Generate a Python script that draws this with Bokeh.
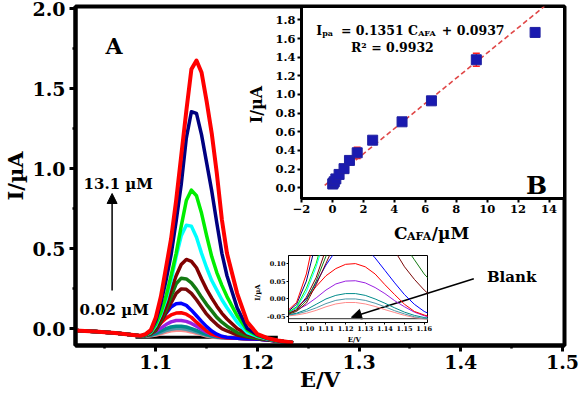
import math
from bokeh.plotting import figure
from bokeh.models import (FixedTicker, NumeralTickFormatter, CustomJSTickFormatter, Label,
                          Arrow, NormalHead, Whisker, TeeHead, ColumnDataSource, GridBox)
from bokeh.embed import file_html
from bokeh.resources import INLINE

SERIF = "DejaVu Serif"

# ---- DPV curves: potential grid (V) and current (uA) for each AFA level ----
E = [1.02, 1.04, 1.06, 1.08, 1.085, 1.09, 1.095, 1.10, 1.105, 1.11, 1.115, 1.12, 1.125, 1.13,
     1.135, 1.14, 1.145, 1.15, 1.155, 1.16, 1.165, 1.17, 1.18, 1.19, 1.20, 1.21, 1.22, 1.235]

i_0p02 = [-0.012, -0.018, -0.028, -0.042, -0.046, -0.048, -0.045, -0.040, -0.032, -0.022, -0.014, -0.010,
          -0.010, -0.014, -0.021, -0.030, -0.038, -0.046, -0.052, -0.056, -0.058, -0.059, -0.060, -0.063,
          -0.066, -0.071, -0.078, -0.088]
i_0p05 = [-0.012, -0.018, -0.028, -0.042, -0.046, -0.046, -0.042, -0.035, -0.025, -0.013, -0.004, 0.000,
          0.000, -0.004, -0.012, -0.022, -0.033, -0.042, -0.050, -0.055, -0.057, -0.058, -0.060, -0.063,
          -0.066, -0.071, -0.078, -0.088]
i_0p1 = [-0.012, -0.018, -0.028, -0.042, -0.046, -0.045, -0.040, -0.030, -0.015, 0.000, 0.010, 0.015,
         0.015, 0.010, 0.000, -0.012, -0.025, -0.037, -0.046, -0.052, -0.056, -0.058, -0.060, -0.063,
         -0.066, -0.071, -0.078, -0.088]
i_0p2 = [-0.012, -0.018, -0.028, -0.042, -0.046, -0.042, -0.032, -0.017, 0.003, 0.025, 0.042, 0.050,
         0.051, 0.045, 0.032, 0.015, -0.005, -0.022, -0.037, -0.047, -0.054, -0.058, -0.060, -0.063,
         -0.066, -0.071, -0.078, -0.088]
i_0p4 = [-0.012, -0.018, -0.028, -0.042, -0.046, -0.040, -0.025, 0.000, 0.035, 0.065, 0.085, 0.097,
         0.099, 0.090, 0.070, 0.040, 0.012, -0.015, -0.035, -0.045, -0.053, -0.058, -0.060, -0.063,
         -0.066, -0.071, -0.078, -0.088]
i_0p7 = [-0.012, -0.018, -0.028, -0.042, -0.046, -0.040, -0.025, 0.000, 0.045, 0.095, 0.135, 0.155,
         0.158, 0.145, 0.115, 0.080, 0.045, 0.012, -0.015, -0.035, -0.048, -0.055, -0.060, -0.063,
         -0.066, -0.071, -0.078, -0.088]
i_1p1 = [-0.012, -0.018, -0.028, -0.042, -0.046, -0.044, -0.035, -0.012, 0.040, 0.100, 0.160, 0.220,
         0.248, 0.245, 0.220, 0.180, 0.135, 0.090, 0.055, 0.025, 0.000, -0.015, -0.040, -0.053,
         -0.062, -0.070, -0.078, -0.088]
i_1p6 = [-0.012, -0.018, -0.028, -0.042, -0.046, -0.043, -0.032, -0.005, 0.050, 0.120, 0.200, 0.280,
         0.315, 0.310, 0.285, 0.245, 0.195, 0.150, 0.110, 0.070, 0.040, 0.015, -0.025, -0.048,
         -0.060, -0.069, -0.078, -0.088]
i_2p6 = [-0.012, -0.018, -0.028, -0.042, -0.046, -0.042, -0.030, 0.005, 0.060, 0.140, 0.240, 0.330,
         0.400, 0.432, 0.420, 0.380, 0.310, 0.245, 0.190, 0.140, 0.095, 0.060, 0.000, -0.035,
         -0.055, -0.067, -0.078, -0.088]
i_4p5 = [-0.012, -0.018, -0.028, -0.042, -0.046, -0.040, -0.025, 0.020, 0.090, 0.180, 0.300, 0.450,
         0.580, 0.645, 0.640, 0.570, 0.470, 0.380, 0.300, 0.240, 0.180, 0.130, 0.040, -0.025,
         -0.050, -0.065, -0.078, -0.088]
i_6p4 = [-0.012, -0.018, -0.028, -0.042, -0.046, -0.040, -0.022, 0.030, 0.100, 0.200, 0.330, 0.470,
         0.640, 0.800, 0.865, 0.830, 0.720, 0.580, 0.450, 0.350, 0.270, 0.200, 0.080, -0.010,
         -0.045, -0.063, -0.078, -0.088]
i_9p3 = [-0.012, -0.018, -0.028, -0.042, -0.046, -0.038, -0.015, 0.050, 0.160, 0.300, 0.460, 0.670,
         0.900, 1.190, 1.355, 1.345, 1.210, 1.035, 0.860, 0.660, 0.470, 0.330, 0.130, 0.000,
         -0.040, -0.062, -0.077, -0.088]
i_13p1 = [-0.012, -0.018, -0.028, -0.042, -0.045, -0.035, -0.010, 0.070, 0.200, 0.380, 0.560, 0.800,
          1.080, 1.360, 1.620, 1.675, 1.600, 1.420, 1.220, 0.970, 0.680, 0.470, 0.220, 0.040,
          -0.035, -0.060, -0.075, -0.088]

E_blank = [1.08, 1.22]
i_blank = [-0.055, -0.055]

curve_currents = [i_0p02, i_0p05, i_0p1, i_0p2, i_0p4, i_0p7, i_1p1, i_1p6, i_2p6, i_4p5, i_6p4, i_9p3, i_13p1]
curve_colors = ["#FF8A8A", "#4F97A8", "#008B8B", "#9A20E0", "#FF0000", "#0000FF", "#7A0808",
                "#137A13", "#800000", "#00FFFF", "#00EE00", "#000080", "#FF0000"]

# ---- calibration data ----
conc = [0.02, 0.05, 0.12, 0.22, 0.43, 0.75, 1.1, 1.6, 2.6, 4.5, 6.4, 9.3, 13.1]
ipa = [0.040, 0.050, 0.065, 0.095, 0.143, 0.205, 0.293, 0.375, 0.510, 0.707, 0.932, 1.372, 1.665]
ipa_err = [0.010, 0.010, 0.012, 0.020, 0.025, 0.020, 0.025, 0.060, 0.020, 0.020, 0.040, 0.070, 0.020]
fit_slope = 0.1351
fit_intercept = 0.0937
fit_x = [-0.5, 13.7]

main_x_ticks = [1.1, 1.2, 1.3, 1.4, 1.5]
main_x_minor = [1.05, 1.15, 1.25, 1.35, 1.45]
main_y_ticks = [0.0, 0.5, 1.0, 1.5, 2.0]
main_y_minor = [0.25, 0.75, 1.25, 1.75]
cal_x_ticks = [-2, 0, 2, 4, 6, 8, 10, 12, 14]
cal_y_ticks = [0.0, 0.2, 0.4, 0.6, 0.8, 1.0, 1.2, 1.4, 1.6, 1.8]
zoom_x_ticks = [1.10, 1.11, 1.12, 1.13, 1.14, 1.15, 1.16]
zoom_y_ticks = [-0.05, 0.00, 0.05, 0.10]

# shared border sizes: the three panels sit in one grid cell, whose frames get aligned
BORDERS = dict(min_border_left=72, min_border_right=15, min_border_top=6, min_border_bottom=51)


def style_axis(ax, size, line_w, tick_out, minor_out, standoff):
    ax.axis_line_color = "black"
    ax.axis_line_width = line_w
    ax.major_tick_line_color = "black"
    ax.major_tick_line_width = max(1, line_w - 1)
    ax.major_tick_in = 0
    ax.major_tick_out = tick_out
    ax.minor_tick_line_color = "black" if minor_out else None
    ax.minor_tick_line_width = max(1, line_w - 1.5)
    ax.minor_tick_in = 0
    ax.minor_tick_out = minor_out
    ax.major_label_text_font = SERIF
    ax.major_label_text_font_style = "bold"
    ax.major_label_text_font_size = size
    ax.major_label_text_color = "black"
    ax.major_label_standoff = standoff


def label(fig, x, y, text, size, align="left", angle=0.0, baseline="alphabetic"):
    fig.add_layout(Label(x=x, y=y, text=text, text_font=SERIF, text_font_style="bold",
                         text_font_size=size, text_color="black", text_align=align,
                         text_baseline=baseline, angle=angle))


# ---- main panel (A) ----
p = figure(width=579, height=396, x_range=(1.021, 1.502), y_range=(-0.1058, 2.0124),
           output_backend="svg", toolbar_location=None, **BORDERS)
p.background_fill_color = "white"
p.border_fill_color = "white"
p.grid.visible = False
p.outline_line_color = "black"
p.outline_line_width = 4
style_axis(p.xaxis[0], "19px", 4, 6, 3, 3)
style_axis(p.yaxis[0], "19px", 4, 6, 3, 4)
p.xaxis.ticker = FixedTicker(ticks=main_x_ticks, minor_ticks=main_x_minor)
p.yaxis.ticker = FixedTicker(ticks=main_y_ticks, minor_ticks=main_y_minor)
p.xaxis.formatter = NumeralTickFormatter(format="0.0")
p.yaxis.formatter = NumeralTickFormatter(format="0.0")
for ax, text, standoff in ((p.xaxis[0], "E/V", -5), (p.yaxis[0], "I/µA", 1)):
    ax.axis_label = text
    ax.axis_label_text_font = SERIF
    ax.axis_label_text_font_style = "bold"
    ax.axis_label_text_font_size = "21px"
    ax.axis_label_text_color = "black"
    ax.axis_label_standoff = standoff

p.line(E_blank, i_blank, line_color="black", line_width=3)
for vals, col in zip(curve_currents, curve_colors):
    p.line(E, vals, line_color=col, line_width=4 if vals is i_13p1 else 3.5, line_join="round")

p.add_layout(Arrow(end=NormalHead(size=10, fill_color="black", line_color="black"),
                   x_start=1.057, y_start=0.238, x_end=1.057, y_end=0.844,
                   line_color="black", line_width=1.5))
p.add_layout(Arrow(end=NormalHead(size=10, fill_color="black", line_color="black"),
                   x_start=1.4128, y_start=0.311, x_end=1.2924, y_end=0.071,
                   line_color="black", line_width=1.5))

label(p, 1.059, 1.7687, "A", "22px", align="center")
label(p, 1.063, 0.9046, "13.1 µM", "15px", align="center")
label(p, 1.059, 0.1191, "0.02 µM", "15px", align="center")
label(p, 1.450, 0.3191, "Blank", "15px", align="center")

# axis titles of the two insets, placed on the main canvas
label(p, 1.1991, 1.400, "I/µA", "16px", align="center", angle=math.pi / 2, baseline="middle")
label(p, 1.3344, 0.600, "C", "17px")
label(p, 1.3471, 0.5752, "AFA", "11px")
label(p, 1.3715, 0.600, "/µM", "17px")
label(p, 1.2953, -0.068, "E/V", "7px", align="center")
label(p, 1.1996, 0.2253, "I/µA", "7px", align="center", angle=math.pi / 2, baseline="middle")

# ---- calibration panel (B) ----
pb = figure(width=353, height=249, x_range=(-2.0, 15.0), y_range=(-0.115, 1.943),
            output_backend="svg", toolbar_location=None, margin=(0, 0, 0, 226), **BORDERS)
pb.background_fill_color = "white"
pb.border_fill_color = None
pb.grid.visible = False
pb.outline_line_color = "black"
pb.outline_line_width = 3
style_axis(pb.xaxis[0], "11.5px", 3, 4, 0, 2)
style_axis(pb.yaxis[0], "11.5px", 3, 4, 0, 2)
pb.xaxis.ticker = FixedTicker(ticks=cal_x_ticks, minor_ticks=[])
pb.yaxis.ticker = FixedTicker(ticks=cal_y_ticks, minor_ticks=[])
pb.xaxis.formatter = CustomJSTickFormatter(code="return (tick < 0 ? '\u2212' : '') + Math.abs(tick).toFixed(0);")
pb.yaxis.formatter = NumeralTickFormatter(format="0.0")

fit_y = [fit_slope * x + fit_intercept for x in fit_x]
pb.line(fit_x, fit_y, line_color="#E04848", line_width=1.6, line_dash="5 3")

cal = ColumnDataSource(dict(x=conc, y=ipa,
                            upper=[v + e for v, e in zip(ipa, ipa_err)],
                            lower=[v - e for v, e in zip(ipa, ipa_err)]))
pb.scatter("x", "y", source=cal, marker="square", size=10, fill_color="#1A1AB0", line_color="#2020A0")
pb.add_layout(Whisker(source=cal, base="x", upper="upper", lower="lower", line_color="#FF2020",
                      line_width=1.5,
                      upper_head=TeeHead(size=7, line_color="#FF2020", line_width=1.5),
                      lower_head=TeeHead(size=7, line_color="#FF2020", line_width=1.5)))

label(pb, -1.042, 1.686, "I", "12.5px")
label(pb, -0.658, 1.654, "pa", "8px")
label(pb, 0.556, 1.686, "= 0.1351 C", "12.5px")
label(pb, 5.540, 1.654, "AFA", "8px")
label(pb, 7.073, 1.686, "+ 0.0937", "12.5px")
label(pb, 1.195, 1.504, "R² = 0.9932", "12.5px")
label(pb, 12.505, 0.025, "B", "25px")

# ---- zoomed view of the low-concentration peaks ----
pc = figure(width=229, height=124, x_range=(1.0909, 1.1617), y_range=(-0.066, 0.1217),
            output_backend="svg", toolbar_location=None, margin=(249, 0, 0, 213), **BORDERS)
pc.background_fill_color = None
pc.border_fill_color = None
pc.grid.visible = False
pc.outline_line_color = "black"
pc.outline_line_width = 1
style_axis(pc.xaxis[0], "6.5px", 1, 2, 0, 1)
style_axis(pc.yaxis[0], "6.5px", 1, 2, 0, 1)
pc.xaxis.ticker = FixedTicker(ticks=zoom_x_ticks, minor_ticks=[])
pc.yaxis.ticker = FixedTicker(ticks=zoom_y_ticks, minor_ticks=[])
pc.xaxis.formatter = NumeralTickFormatter(format="0.00")
pc.yaxis.formatter = NumeralTickFormatter(format="0.00")

pc.line(E_blank, i_blank, line_color="#555555", line_width=1.2)
for vals, col in zip(curve_currents, curve_colors):
    pc.line(E, vals, line_color=col, line_width=1)

layout = GridBox(children=[(p, 0, 0), (pb, 0, 0), (pc, 0, 0)])

open("out.html", "w").write(file_html(layout, INLINE))
